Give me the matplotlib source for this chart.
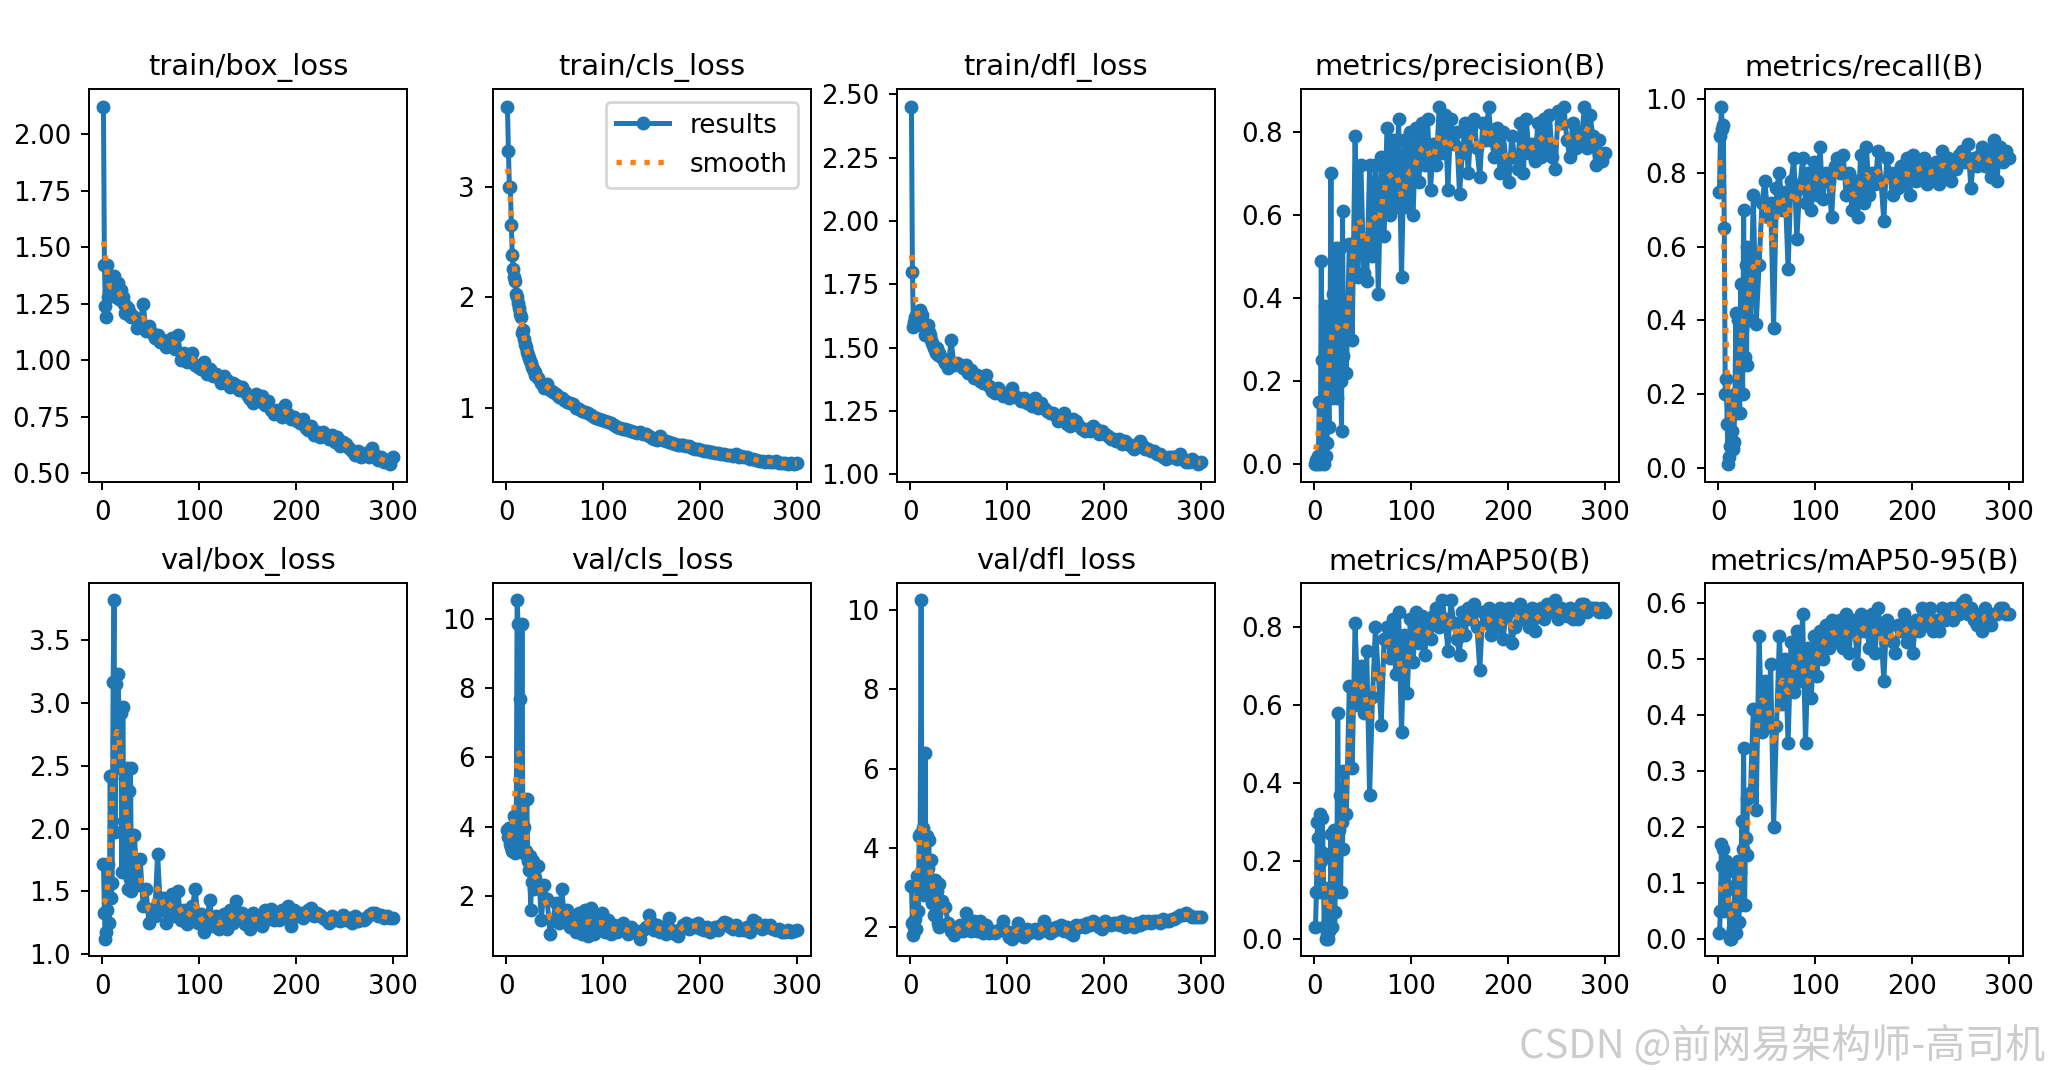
import numpy as np
import matplotlib
matplotlib.use("Agg")
import matplotlib.pyplot as plt

EPOCHS = list(range(1, 31)) + list(range(33, 301, 3))

TITLES = [
    "train/box_loss", "train/cls_loss", "train/dfl_loss",
    "metrics/precision(B)", "metrics/recall(B)",
    "val/box_loss", "val/cls_loss", "val/dfl_loss",
    "metrics/mAP50(B)", "metrics/mAP50-95(B)",
]

train_box_loss = [
    2.12, 1.42, 1.24, 1.19, 1.42, 1.28, 1.30, 1.33, 1.29, 1.31,
    1.36, 1.37, 1.30, 1.28, 1.33, 1.34, 1.27, 1.30, 1.31, 1.26,
    1.28, 1.25, 1.21, 1.24, 1.22, 1.23, 1.20, 1.21, 1.19, 1.20,
    1.19, 1.14, 1.16, 1.25, 1.13, 1.15, 1.12, 1.10, 1.11, 1.08,
    1.09, 1.06, 1.08, 1.10, 1.05, 1.11, 1.00, 1.03, 0.99, 1.01,
    1.03, 0.98, 0.97, 0.96, 0.99, 0.94, 0.96, 0.93, 0.94, 0.92,
    0.90, 0.93, 0.91, 0.88, 0.90, 0.89, 0.87, 0.88, 0.86, 0.84,
    0.83, 0.81, 0.85, 0.82, 0.84, 0.80, 0.82, 0.78, 0.76, 0.78,
    0.77, 0.75, 0.80, 0.76, 0.74, 0.75, 0.73, 0.72, 0.74, 0.70,
    0.69, 0.71, 0.67, 0.68, 0.66, 0.68, 0.67, 0.65, 0.67, 0.64,
    0.66, 0.62, 0.64, 0.63, 0.61, 0.60, 0.58, 0.60, 0.57, 0.58,
    0.59, 0.57, 0.61, 0.58, 0.56, 0.57, 0.55, 0.56, 0.54, 0.57,
]

train_cls_loss = [
    3.72, 3.32, 3.00, 3.00, 2.65, 2.38, 2.25, 2.18, 2.15, 2.03,
    2.00, 1.95, 1.90, 1.85, 1.82, 1.68, 1.70, 1.62, 1.58, 1.55,
    1.50, 1.48, 1.45, 1.42, 1.40, 1.37, 1.35, 1.33, 1.32, 1.30,
    1.27, 1.22, 1.18, 1.21, 1.16, 1.14, 1.12, 1.10, 1.09, 1.07,
    1.05, 1.04, 1.03, 1.00, 0.99, 0.97, 0.96, 0.95, 0.93, 0.92,
    0.91, 0.90, 0.89, 0.88, 0.87, 0.86, 0.84, 0.83, 0.82, 0.81,
    0.81, 0.80, 0.79, 0.78, 0.77, 0.78, 0.76, 0.76, 0.74, 0.73,
    0.72, 0.71, 0.74, 0.71, 0.70, 0.69, 0.68, 0.67, 0.66, 0.66,
    0.66, 0.65, 0.65, 0.64, 0.63, 0.63, 0.62, 0.61, 0.61, 0.60,
    0.60, 0.59, 0.59, 0.58, 0.58, 0.57, 0.57, 0.56, 0.58, 0.55,
    0.56, 0.55, 0.55, 0.54, 0.54, 0.53, 0.52, 0.52, 0.51, 0.52,
    0.51, 0.51, 0.52, 0.50, 0.50, 0.50, 0.49, 0.50, 0.49, 0.50,
]

train_dfl_loss = [
    2.45, 1.80, 1.58, 1.60, 1.62, 1.59, 1.61, 1.60, 1.63, 1.65,
    1.62, 1.63, 1.60, 1.58, 1.55, 1.58, 1.57, 1.59, 1.56, 1.55,
    1.53, 1.52, 1.51, 1.50, 1.49, 1.48, 1.50, 1.47, 1.48, 1.47,
    1.46, 1.44, 1.42, 1.53, 1.43, 1.44, 1.43, 1.42, 1.43, 1.40,
    1.41, 1.38, 1.39, 1.37, 1.36, 1.39, 1.35, 1.33, 1.32, 1.34,
    1.33, 1.31, 1.32, 1.30, 1.34, 1.31, 1.30, 1.29, 1.30, 1.28,
    1.28, 1.27, 1.30, 1.26, 1.28, 1.26, 1.25, 1.24, 1.24, 1.23,
    1.21, 1.22, 1.24, 1.20, 1.19, 1.22, 1.21, 1.19, 1.18, 1.17,
    1.18, 1.17, 1.19, 1.18, 1.16, 1.17, 1.16, 1.15, 1.14, 1.14,
    1.13, 1.14, 1.12, 1.13, 1.12, 1.11, 1.10, 1.12, 1.13, 1.11,
    1.10, 1.10, 1.09, 1.09, 1.08, 1.08, 1.07, 1.06, 1.07, 1.07,
    1.07, 1.06, 1.08, 1.06, 1.05, 1.05, 1.06, 1.05, 1.04, 1.05,
]

precision = [
    0.00, 0.01, 0.00, 0.02, 0.15, 0.00, 0.49, 0.25, 0.01, 0.00,
    0.38, 0.02, 0.05, 0.20, 0.09, 0.30, 0.70, 0.16, 0.41, 0.22,
    0.30, 0.52, 0.16, 0.40, 0.27, 0.52, 0.20, 0.08, 0.61, 0.26,
    0.22, 0.53, 0.30, 0.79, 0.45, 0.72, 0.46, 0.44, 0.72, 0.50,
    0.72, 0.41, 0.74, 0.55, 0.81, 0.60, 0.78, 0.62, 0.83, 0.45,
    0.78, 0.62, 0.80, 0.60, 0.81, 0.68, 0.82, 0.72, 0.83, 0.66,
    0.77, 0.72, 0.86, 0.75, 0.84, 0.66, 0.83, 0.77, 0.80, 0.65,
    0.75, 0.82, 0.70, 0.81, 0.83, 0.76, 0.69, 0.82, 0.78, 0.86,
    0.78, 0.74, 0.81, 0.70, 0.80, 0.73, 0.68, 0.79, 0.74, 0.71,
    0.82, 0.70, 0.83, 0.75, 0.77, 0.73, 0.82, 0.74, 0.83, 0.76,
    0.84, 0.74, 0.71, 0.85, 0.82, 0.86, 0.78, 0.74, 0.82, 0.76,
    0.80, 0.77, 0.86, 0.76, 0.84, 0.79, 0.72, 0.78, 0.73, 0.75,
]

recall = [
    0.75, 0.90, 0.98, 0.92, 0.93, 0.65, 0.20, 0.24, 0.12, 0.01,
    0.03, 0.06, 0.18, 0.10, 0.05, 0.07, 0.20, 0.42, 0.15, 0.40,
    0.20, 0.15, 0.50, 0.38, 0.20, 0.70, 0.30, 0.55, 0.28, 0.60,
    0.40, 0.74, 0.39, 0.55, 0.72, 0.78, 0.68, 0.72, 0.38, 0.76,
    0.80, 0.70, 0.75, 0.54, 0.78, 0.84, 0.62, 0.76, 0.84, 0.72,
    0.80, 0.70, 0.83, 0.74, 0.87, 0.73, 0.80, 0.78, 0.68, 0.82,
    0.84, 0.80, 0.85, 0.74, 0.80, 0.70, 0.78, 0.68, 0.85, 0.72,
    0.87, 0.74, 0.80, 0.77, 0.86, 0.78, 0.67, 0.84, 0.80, 0.74,
    0.80, 0.76, 0.82, 0.77, 0.84, 0.74, 0.85, 0.78, 0.83, 0.80,
    0.84, 0.77, 0.82, 0.79, 0.83, 0.77, 0.86, 0.80, 0.84, 0.78,
    0.83, 0.81, 0.85, 0.86, 0.83, 0.88, 0.76, 0.84, 0.82, 0.85,
    0.87, 0.82, 0.86, 0.79, 0.89, 0.78, 0.87, 0.83, 0.86, 0.84,
]

val_box_loss = [
    1.72, 1.33, 1.12, 1.18, 1.35, 1.72, 1.25, 2.42, 1.45, 1.57,
    3.17, 3.82, 1.97, 3.15, 2.70, 3.23, 2.95, 2.48, 2.92, 1.65,
    2.97, 2.06, 2.40, 1.67, 2.48, 1.52, 2.30, 1.60, 2.48, 1.50,
    1.95, 1.55, 1.76, 1.38, 1.52, 1.25, 1.36, 1.30, 1.80, 1.35,
    1.45, 1.25, 1.40, 1.48, 1.30, 1.50, 1.27, 1.35, 1.24, 1.30,
    1.38, 1.52, 1.25, 1.32, 1.18, 1.28, 1.43, 1.22, 1.30, 1.20,
    1.25, 1.32, 1.20, 1.35, 1.25, 1.42, 1.28, 1.33, 1.24, 1.30,
    1.20, 1.33, 1.25, 1.30, 1.22, 1.35, 1.28, 1.36, 1.27, 1.33,
    1.27, 1.35, 1.30, 1.38, 1.22, 1.35, 1.30, 1.33, 1.29, 1.32,
    1.35, 1.37, 1.30, 1.33, 1.31, 1.29, 1.27, 1.25, 1.30, 1.27,
    1.28, 1.26, 1.31, 1.27, 1.29, 1.25, 1.30, 1.26, 1.28, 1.27,
    1.29, 1.31, 1.33, 1.33, 1.30, 1.31, 1.29, 1.30, 1.29, 1.29,
]

val_cls_loss = [
    3.90, 3.70, 3.95, 3.50, 3.40, 3.30, 3.90, 4.30, 3.25, 3.50,
    10.55, 9.85, 3.60, 7.70, 3.55, 9.85, 3.30, 4.00, 3.20, 3.30,
    4.80, 3.00, 2.75, 3.15, 1.60, 2.40, 3.00, 2.20, 2.80, 2.50,
    2.85, 1.30, 2.30, 1.90, 0.90, 1.30, 1.80, 1.20, 2.20, 1.40,
    1.60, 1.10, 1.30, 0.95, 1.50, 0.90, 1.60, 0.85, 1.65, 0.90,
    1.40, 1.00, 1.50, 0.95, 1.30, 0.90, 1.15, 0.95, 1.00, 1.20,
    1.00, 0.90, 1.10, 1.00, 0.95, 0.75, 1.00, 1.10, 1.45, 1.20,
    1.00, 1.15, 0.95, 1.10, 0.90, 1.35, 1.00, 0.90, 0.85, 1.05,
    1.15, 1.20, 1.05, 1.15, 1.10, 1.20, 1.05, 1.00, 1.10, 0.95,
    1.05, 1.10, 1.00, 1.15, 1.25, 1.20, 1.10, 1.05, 1.15, 1.00,
    1.05, 1.00, 1.10, 0.95, 1.30, 1.25, 1.10, 1.05, 1.15, 1.10,
    1.15, 1.05, 1.00, 1.05, 0.95, 0.95, 1.00, 0.95, 0.98, 1.00,
]

val_dfl_loss = [
    3.05, 2.10, 1.80, 2.00, 2.20, 1.95, 3.30, 2.40, 4.30, 4.35,
    10.25, 3.00, 4.50, 2.80, 6.40, 3.30, 4.30, 3.50, 4.20, 2.80,
    3.70, 2.60, 3.20, 2.30, 3.20, 2.50, 2.90, 2.10, 3.10, 2.00,
    2.65, 2.50, 2.10, 1.90, 1.80, 1.95, 2.05, 1.90, 2.35, 2.00,
    1.90, 2.15, 1.90, 2.15, 1.85, 2.05, 1.85, 1.90, 1.85, 1.90,
    1.95, 2.15, 1.90, 1.75, 1.70, 1.90, 2.10, 1.80, 1.75, 1.95,
    1.85, 1.90, 1.95, 1.85, 1.90, 2.15, 2.00, 1.85, 1.90, 2.00,
    1.95, 2.05, 1.90, 2.00, 1.85, 1.80, 2.05, 2.00, 2.05, 2.00,
    2.10, 2.05, 2.15, 2.10, 2.00, 1.95, 2.15, 2.10, 2.05, 2.10,
    2.10, 2.05, 2.15, 2.00, 2.10, 2.05, 2.00, 2.10, 2.05, 2.15,
    2.10, 2.15, 2.10, 2.15, 2.15, 2.10, 2.20, 2.15, 2.15, 2.20,
    2.20, 2.25, 2.30, 2.30, 2.35, 2.30, 2.25, 2.25, 2.25, 2.25,
]

map50 = [
    0.03, 0.12, 0.30, 0.26, 0.12, 0.32, 0.20, 0.31, 0.22, 0.03,
    0.13, 0.00, 0.01, 0.00, 0.02, 0.05, 0.27, 0.03, 0.12, 0.28,
    0.07, 0.25, 0.12, 0.58, 0.28, 0.37, 0.12, 0.30, 0.23, 0.43,
    0.32, 0.65, 0.44, 0.81, 0.60, 0.70, 0.58, 0.74, 0.37, 0.62,
    0.80, 0.68, 0.55, 0.77, 0.80, 0.72, 0.82, 0.68, 0.84, 0.53,
    0.78, 0.63, 0.82, 0.71, 0.84, 0.76, 0.83, 0.73, 0.81, 0.77,
    0.83, 0.85, 0.80, 0.87, 0.82, 0.74, 0.87, 0.81, 0.77, 0.73,
    0.84, 0.78, 0.85, 0.82, 0.86, 0.80, 0.69, 0.84, 0.81, 0.85,
    0.78, 0.83, 0.80, 0.85, 0.77, 0.83, 0.85, 0.76, 0.80, 0.84,
    0.86, 0.82, 0.84, 0.80, 0.85, 0.79, 0.83, 0.85, 0.82, 0.86,
    0.84, 0.86, 0.87, 0.82, 0.85, 0.84, 0.83, 0.85, 0.82, 0.84,
    0.82, 0.86, 0.86, 0.84, 0.85, 0.85, 0.85, 0.84, 0.85, 0.84,
]

map50_95 = [
    0.01, 0.05, 0.17, 0.13, 0.16, 0.05, 0.10, 0.14, 0.12, 0.09,
    0.05, 0.00, 0.00, 0.01, 0.02, 0.03, 0.13, 0.01, 0.06, 0.14,
    0.03, 0.12, 0.06, 0.21, 0.16, 0.34, 0.06, 0.18, 0.15, 0.25,
    0.26, 0.41, 0.23, 0.54, 0.37, 0.46, 0.38, 0.49, 0.20, 0.38,
    0.54, 0.42, 0.50, 0.35, 0.53, 0.44, 0.55, 0.46, 0.58, 0.35,
    0.52, 0.43, 0.54, 0.47, 0.55, 0.50, 0.56, 0.52, 0.57, 0.53,
    0.55, 0.57, 0.52, 0.58, 0.51, 0.57, 0.55, 0.49, 0.58, 0.55,
    0.56, 0.52, 0.58, 0.51, 0.59, 0.55, 0.46, 0.57, 0.56, 0.53,
    0.51, 0.56, 0.55, 0.58, 0.53, 0.56, 0.51, 0.57, 0.55, 0.59,
    0.58, 0.56, 0.59, 0.55, 0.57, 0.55, 0.59, 0.57, 0.58, 0.59,
    0.57, 0.59, 0.58, 0.60, 0.605, 0.58, 0.59, 0.57, 0.56, 0.58,
    0.55, 0.59, 0.58, 0.56, 0.58, 0.58, 0.59, 0.59, 0.58, 0.58,
]

SERIES = [train_box_loss, train_cls_loss, train_dfl_loss, precision, recall,
          val_box_loss, val_cls_loss, val_dfl_loss, map50, map50_95]

# y tick positions shown on each panel
YTICKS = [
    [0.50, 0.75, 1.00, 1.25, 1.50, 1.75, 2.00],
    [1, 2, 3],
    [1.00, 1.25, 1.50, 1.75, 2.00, 2.25, 2.50],
    [0.0, 0.2, 0.4, 0.6, 0.8],
    [0.0, 0.2, 0.4, 0.6, 0.8, 1.0],
    [1.0, 1.5, 2.0, 2.5, 3.0, 3.5],
    [2, 4, 6, 8, 10],
    [2, 4, 6, 8, 10],
    [0.0, 0.2, 0.4, 0.6, 0.8],
    [0.0, 0.1, 0.2, 0.3, 0.4, 0.5, 0.6],
]


def smooth(x, y, sigma=3.0):
    # gaussian smoothing over epoch distance, edges reflected like gaussian_filter1d
    x = np.asarray(x, float)
    y = np.asarray(y, float)
    lo = 2 * (x[0] - 0.5) - x
    hi = 2 * (x[-1] + 0.5) - x
    xx = np.concatenate([lo, x, hi])
    yy = np.concatenate([y, y, y])
    w = np.exp(-0.5 * ((x[:, None] - xx[None, :]) / sigma) ** 2)
    return (w * yy).sum(1) / w.sum(1)


W, H = 2050, 1070
fig = plt.figure(figsize=(W / 200, H / 200), dpi=200)

# axes boxes measured in pixels on the reference
col_left = [89 + 404 * k for k in range(5)]
row_box = [(89, 482), (583, 956)]

for i, (title, vals) in enumerate(zip(TITLES, SERIES)):
    r, c = divmod(i, 5)
    top, bot = row_box[r]
    ax = fig.add_axes([col_left[c] / W, 1 - bot / H, 318 / W, (bot - top) / H])
    ax.plot(EPOCHS, vals, marker=".", label="results", linewidth=1.8,
            markersize=8, markeredgewidth=1.0, color="C0")
    ax.plot(EPOCHS, smooth(EPOCHS, vals), ":", label="smooth", linewidth=1.9, color="C1")
    ax.set_title(title, fontsize=10.4, pad=5)
    ax.set_xticks([0, 100, 200, 300])
    ax.set_yticks(YTICKS[i])
    ax.tick_params(labelsize=9.4, length=3, width=0.7)
    for s in ax.spines.values():
        s.set_linewidth(0.7)
    if i == 1:
        ax.legend(fontsize=9.4, loc="upper right")

fig.text(2045 / W, 1 - 1058 / H, "CSDN @前网易架构师-高司机", ha="right", va="baseline",
         fontsize=14.4, color="#cccccc", family=["Noto Sans CJK SC", "DejaVu Sans"])

fig.savefig("out.png", dpi=200)
